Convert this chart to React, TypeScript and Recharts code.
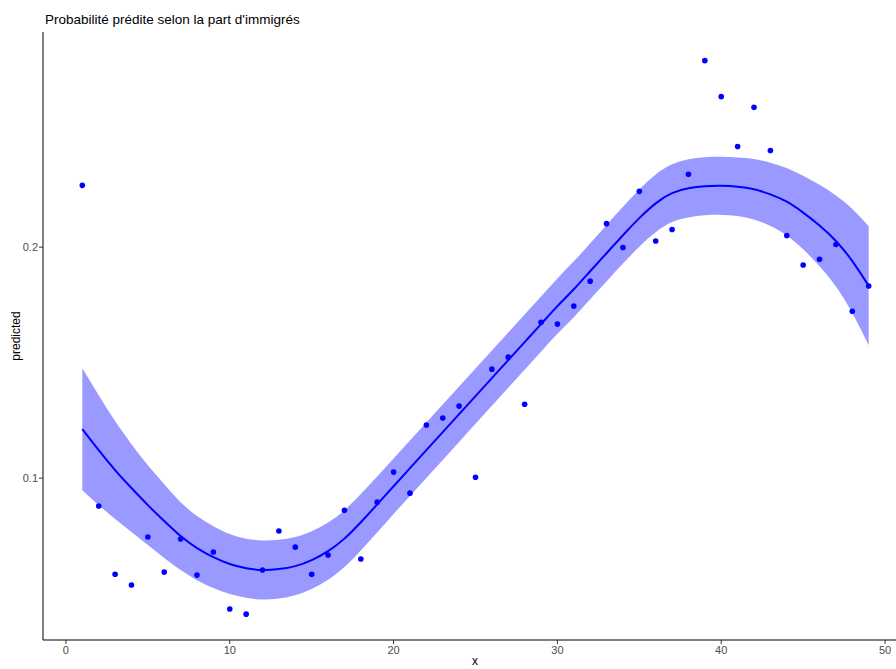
import React from 'react';
import {
  ComposedChart,
  Area,
  Line,
  Scatter,
  XAxis,
  YAxis
} from 'recharts';

// x positions (share of immigrants)
const xValues = [
  1, 2, 3, 4, 5, 6, 7, 8, 9, 10, 11, 12, 13, 14, 15, 16, 17, 18, 19, 20, 21, 22, 23, 24, 25,
  26, 27, 28, 29, 30, 31, 32, 33, 34, 35, 36, 37, 38, 39, 40, 41, 42, 43, 44, 45, 46, 47, 48, 49
];

// observed predicted probabilities (points)
const observed = [
  0.2268, 0.0879, 0.0584, 0.0537, 0.0745, 0.0593, 0.0736, 0.0580, 0.0680, 0.0433,
  0.0411, 0.0602, 0.0771, 0.0701, 0.0584, 0.0667, 0.0861, 0.0650, 0.0896, 0.1026,
  0.0935, 0.1230, 0.1260, 0.1312, 0.1004, 0.1472, 0.1524, 0.1320, 0.1675, 0.1667,
  0.1745, 0.1853, 0.2102, 0.1999, 0.2242, 0.2027, 0.2077, 0.2316, 0.2808, 0.2652,
  0.2436, 0.2606, 0.2419, 0.2051, 0.1923, 0.1948, 0.2012, 0.1723, 0.1832
];

// smoothed fit
const fitted = [
  0.1212, 0.1121, 0.1035, 0.0957, 0.0883, 0.0814, 0.0749, 0.0697, 0.0658, 0.0628,
  0.0610, 0.0602, 0.0606, 0.0619, 0.0645, 0.0684, 0.0738, 0.0809, 0.0886, 0.0965,
  0.1043, 0.1121, 0.1199, 0.1277, 0.1355, 0.1433, 0.1511, 0.1589, 0.1667, 0.1745,
  0.1818, 0.1896, 0.1974, 0.2052, 0.2126, 0.2190, 0.2234, 0.2255, 0.2264, 0.2266,
  0.2262, 0.2251, 0.2229, 0.2197, 0.2150, 0.2094, 0.2027, 0.1940, 0.1833
];

// confidence band
const lower = [
  0.0948, 0.0883, 0.0823, 0.0767, 0.0710, 0.0654, 0.0602, 0.0558, 0.0524, 0.0498,
  0.0482, 0.0474, 0.0479, 0.0493, 0.0520, 0.0560, 0.0615, 0.0687, 0.0765, 0.0845,
  0.0923, 0.1001, 0.1079, 0.1157, 0.1235, 0.1313, 0.1391, 0.1469, 0.1547, 0.1625,
  0.1697, 0.1775, 0.1852, 0.1929, 0.2002, 0.2065, 0.2109, 0.2129, 0.2138, 0.2140,
  0.2135, 0.2120, 0.2092, 0.2051, 0.1991, 0.1918, 0.1830, 0.1715, 0.1575
];
const upper = [
  0.1476, 0.1359, 0.1247, 0.1147, 0.1056, 0.0974, 0.0896, 0.0836, 0.0792, 0.0758,
  0.0738, 0.0730, 0.0733, 0.0745, 0.0770, 0.0808, 0.0861, 0.0931, 0.1007, 0.1085,
  0.1163, 0.1241, 0.1319, 0.1397, 0.1475, 0.1553, 0.1631, 0.1709, 0.1787, 0.1865,
  0.1939, 0.2017, 0.2096, 0.2175, 0.2250, 0.2315, 0.2359, 0.2381, 0.2390, 0.2392,
  0.2389, 0.2382, 0.2366, 0.2343, 0.2309, 0.2270, 0.2224, 0.2165, 0.2091
];

const xTicks = [0, 10, 20, 30, 40, 50];
const yTicks = [0.1, 0.2];

const data = xValues.map((x, i) => ({
  x,
  obs: observed[i],
  fit: fitted[i],
  band: [lower[i], upper[i]]
}));

const Dot = (props: any) => {
  const { cx, cy } = props;
  if (cx == null || cy == null) return null;
  return <circle cx={cx} cy={cy} r={2.8} fill="#0000ff" />;
};

export default function App() {
  const font = '"Liberation Sans", Arial, sans-serif';
  return (
    <div
      style={{
        position: 'absolute',
        left: 0,
        top: 0,
        width: 896,
        height: 669,
        overflow: 'hidden',
        background: '#fff',
        fontFamily: font
      }}
    >
      <div
        style={{
          position: 'absolute',
          left: 45,
          top: 12.5,
          fontSize: 13.5,
          lineHeight: '13.5px',
          color: '#000',
          whiteSpace: 'nowrap'
        }}
      >
        Probabilité prédite selon la part d'immigrés
      </div>

      <ComposedChart
        width={912}
        height={669}
        data={data}
        margin={{ top: 32, right: 4, bottom: 0, left: 0 }}
      >
        <XAxis
          dataKey="x"
          type="number"
          domain={[-1.4, 51.4]}
          allowDataOverflow
          ticks={xTicks}
          height={29}
          tickSize={4}
          tickMargin={2}
          tick={{ fill: '#4d4d4d', fontSize: 11, fontFamily: font }}
          tickLine={{ stroke: '#333' }}
          axisLine={{ stroke: '#000' }}
        />
        <YAxis
          type="number"
          domain={[0.0299, 0.2932]}
          allowDataOverflow
          ticks={yTicks}
          width={43}
          tickSize={4}
          tickMargin={1}
          tickFormatter={(v: number) => v.toFixed(1)}
          tick={{ fill: '#4d4d4d', fontSize: 11, fontFamily: font }}
          tickLine={{ stroke: '#333' }}
          axisLine={{ stroke: '#000' }}
        />
        <Area
          dataKey="band"
          type="natural"
          stroke="none"
          fill="#0000ff"
          fillOpacity={0.4}
          isAnimationActive={false}
          activeDot={false}
        />
        <Line
          dataKey="fit"
          type="natural"
          stroke="#0000ff"
          strokeWidth={2}
          dot={false}
          activeDot={false}
          isAnimationActive={false}
        />
        <Scatter dataKey="obs" shape={<Dot />} isAnimationActive={false} />
      </ComposedChart>

      <div
        style={{
          position: 'absolute',
          left: 15.5,
          top: 336,
          transform: 'translate(-50%, -50%) rotate(-90deg)',
          fontSize: 12,
          color: '#000',
          whiteSpace: 'nowrap'
        }}
      >
        predicted
      </div>
      <div
        style={{
          position: 'absolute',
          left: 475,
          top: 661,
          transform: 'translate(-50%, -50%)',
          fontSize: 12,
          lineHeight: '12px',
          color: '#000',
          whiteSpace: 'nowrap'
        }}
      >
        x
      </div>
    </div>
  );
}
